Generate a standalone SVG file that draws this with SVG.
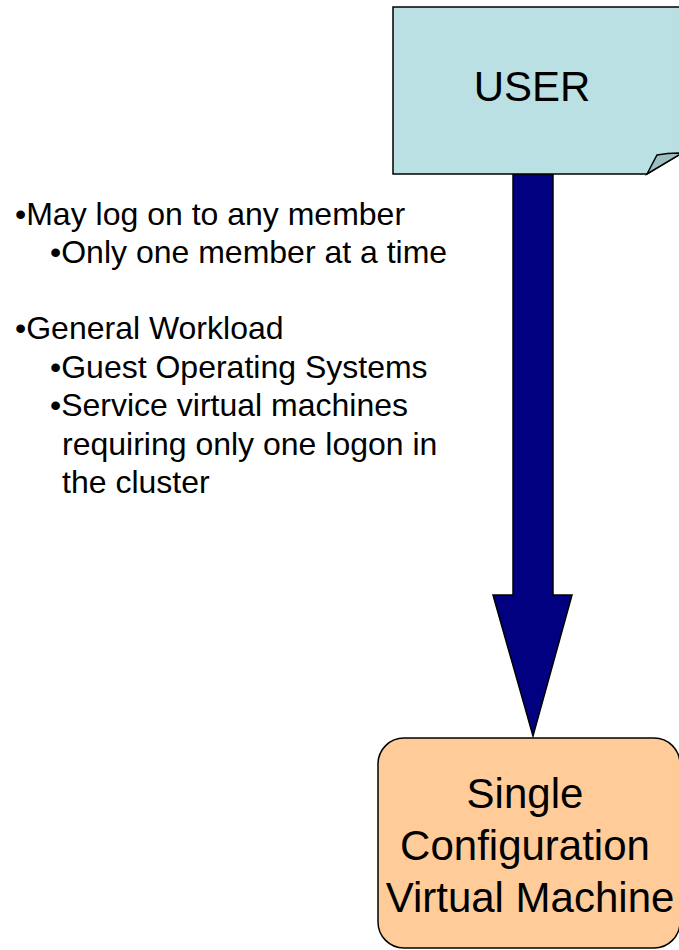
<svg xmlns="http://www.w3.org/2000/svg" width="679" height="950" viewBox="0 0 679 950">
<style>
.t{font-family:"Liberation Sans",Arial,sans-serif;fill:#000}
.big{font-size:42px;text-anchor:middle}
.sm{font-size:32px}
.ln{stroke:#000;stroke-width:1.5;stroke-linejoin:miter}
</style>
<rect width="679" height="950" fill="#fff"/>
<g id="connectors">
<path class="ln" d="M513,174 L553,174 L553,595 L572,595 L533,736 L493,595 L513,595 Z" fill="#000080"/>
</g>
<g id="user">
<path class="ln" d="M393,7 L682,7 L682,153 L647,174 L393,174 Z" fill="#BBE0E3"/>
<path class="ln" d="M647,174 L657,155 Q668,153 682,153 Z" fill="#9DBFC2"/>
<text class="t big" x="532" y="101">USER</text>
</g>
<g id="vm">
<rect class="ln" x="378" y="738" width="302" height="210" rx="26" ry="26" fill="#FFCC99"/>
<text class="t big" x="525" y="808">Single</text>
<text class="t big" x="525" y="860">Configuration</text>
<text class="t big" x="530" y="912">Virtual Machine</text>
</g>
<g id="notes">
<text class="t sm" x="15" y="225">•May log on to any member</text>
<text class="t sm" x="50" y="263">•Only one member at a time</text>
<text class="t sm" x="15" y="339">•General Workload</text>
<text class="t sm" x="50" y="378">•Guest Operating Systems</text>
<text class="t sm" x="50" y="416">•Service virtual machines</text>
<text class="t sm" x="62" y="455">requiring only one logon in</text>
<text class="t sm" x="62" y="493">the cluster</text>
</g>
</svg>
